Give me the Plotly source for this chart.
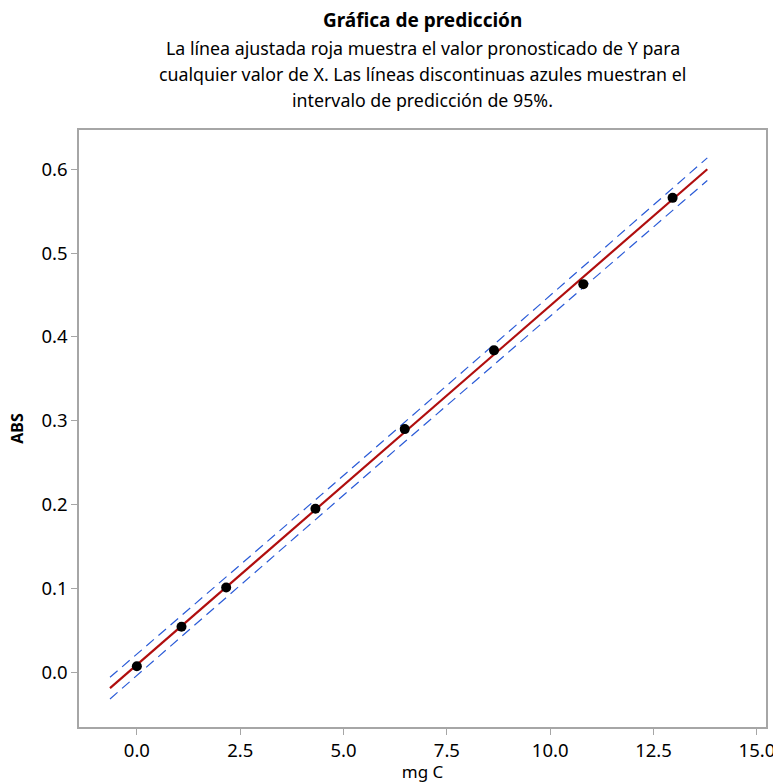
import plotly.graph_objects as go
import numpy as np

# Data
mgC = [0.0, 1.08, 2.16, 4.32, 6.48, 8.64, 10.8, 12.96]
abs_vals = [0.007, 0.054, 0.101, 0.195, 0.290, 0.384, 0.463, 0.566]

x_tick_vals = [0.0, 2.5, 5.0, 7.5, 10.0, 12.5, 15.0]
y_tick_vals = [0.0, 0.1, 0.2, 0.3, 0.4, 0.5, 0.6]

FIT_X_MIN = -0.65
FIT_X_MAX = 13.8
T_975_DF6 = 2.447

COLORS = dict(
  fit='#B00E0E',
  pi='#2A5BD7',
  point='#000000',
  frame='#A6A6A6',
  text='#000000'
)
FONT = 'Noto Sans'

# Regression fit and 95% prediction interval
x = np.array(mgC)
y = np.array(abs_vals)
n = len(x)
slope, intercept = np.polyfit(x, y, 1)
resid = y - (intercept + slope * x)
s = np.sqrt(np.sum(resid ** 2) / (n - 2))
sxx = np.sum((x - x.mean()) ** 2)

xs = np.linspace(FIT_X_MIN, FIT_X_MAX, 100)
fit = intercept + slope * xs
half = T_975_DF6 * s * np.sqrt(1 + 1 / n + (xs - x.mean()) ** 2 / sxx)

fig = go.Figure()

fig.add_trace(go.Scatter(
  x=xs, y=fit + half, mode='lines',
  line=dict(color=COLORS['pi'], width=1.2, dash='10px,6px'),
  hoverinfo='skip', showlegend=False
))
fig.add_trace(go.Scatter(
  x=xs, y=fit - half, mode='lines',
  line=dict(color=COLORS['pi'], width=1.2, dash='10px,6px'),
  hoverinfo='skip', showlegend=False
))
fig.add_trace(go.Scatter(
  x=xs, y=fit, mode='lines',
  line=dict(color=COLORS['fit'], width=2.2),
  hoverinfo='skip', showlegend=False
))
fig.add_trace(go.Scatter(
  x=mgC, y=abs_vals, mode='markers',
  marker=dict(color=COLORS['point'], size=10),
  showlegend=False
))

# Title and subtitle
fig_w, fig_h = 773, 783
m_l, m_r, m_t, m_b = 79, 7, 130, 56
plot_h = fig_h - m_t - m_b
fig.add_annotation(
  text='<b>Gráfica de predicción</b>',
  xref='paper', yref='paper', x=0.5, y=1 + 110 / plot_h,
  xanchor='center', yanchor='middle', showarrow=False,
  font=dict(family=FONT, size=19, color=COLORS['text'])
)
subtitle = [
  'La línea ajustada roja muestra el valor pronosticado de Y para',
  'cualquier valor de X. Las líneas discontinuas azules muestran el',
  'intervalo de predicción de 95%.'
]
for i, line in enumerate(subtitle):
  fig.add_annotation(
    text=line,
    xref='paper', yref='paper', x=0.5, y=1 + (82 - 26 * i) / plot_h,
    xanchor='center', yanchor='middle', showarrow=False,
    font=dict(family=FONT, size=17.8, color=COLORS['text'])
  )

fig.update_layout(
  width=fig_w,
  height=fig_h,
  plot_bgcolor='white',
  paper_bgcolor='white',
  margin=dict(l=m_l, r=m_r, t=m_t, b=m_b, autoexpand=False),
  font=dict(family=FONT, size=18.5, color=COLORS['text']),
  xaxis=dict(
    range=[-1.4, 15.22],
    tickvals=x_tick_vals,
    ticktext=[f'{v:.1f}' for v in x_tick_vals],
    ticklabeloverflow='allow',
    showgrid=False, zeroline=False,
    showline=True, mirror=True, linecolor=COLORS['frame'], linewidth=1.5,
    ticks='outside', ticklen=6, tickcolor=COLORS['frame'],
    title=dict(text='mg C', standoff=17, font=dict(size=17))
  ),
  yaxis=dict(
    range=[-0.0656, 0.647],
    tickvals=y_tick_vals,
    ticktext=[f'{v:.1f}' for v in y_tick_vals],
    showgrid=False, zeroline=False,
    showline=True, mirror=True, linecolor=COLORS['frame'], linewidth=1.5,
    ticks='outside', ticklen=6, tickcolor=COLORS['frame'],
    title=dict(text='<b>ABS</b>', standoff=14, font=dict(size=16))
  )
)

# page body margin off so the figure fills the window exactly
fig.write_html(
  'out.html',
  config=dict(displayModeBar=False),
  post_script="document.body.style.margin='0';document.body.style.overflow='hidden';"
)
